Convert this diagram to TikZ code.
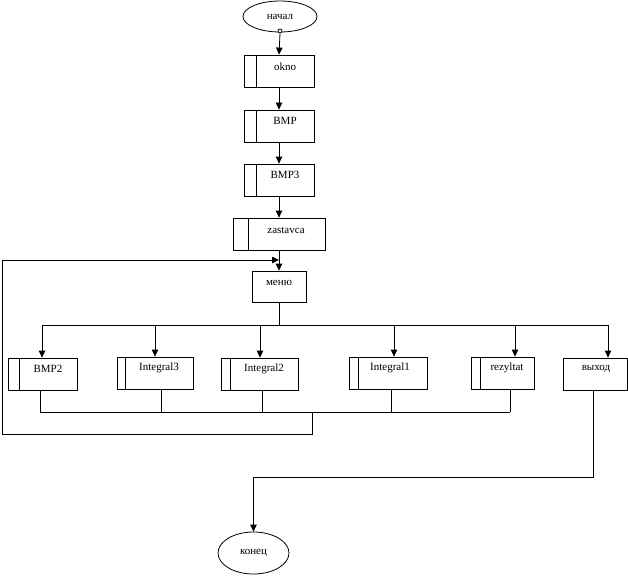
\documentclass[tikz,border=0pt]{standalone}
\usepackage{fontspec}
\setmainfont{Liberation Serif}
\usetikzlibrary{arrows.meta,shapes.geometric,calc}
\begin{document}
\begin{tikzpicture}[x=1pt,y=-1pt,
  ln/.style={line width=0.8pt},
  arr/.style={ln,-{Triangle[length=7pt,width=6.5pt]}},
  blk/.style={draw,ln,rectangle,inner sep=0pt,minimum width=#1,minimum height=32pt},
  bar/.style={path picture={\draw[ln] ([xshift=#1]path picture bounding box.north west) -- ([xshift=#1]path picture bounding box.south west);}},
  tx/.style={font=\fontsize{11}{13}\selectfont,inner sep=0pt},
  term/.style={draw,ln,ellipse,inner sep=0pt,font=\fontsize{11}{13}\selectfont}
]
\useasboundingbox (0,0) rectangle (628,575);

% top column
\node[term,minimum width=74pt,minimum height=31pt] (start) at (280,16.5) {начал};
\node[circle,draw,ln,fill=white,minimum size=4pt,inner sep=0pt] (c0) at (280,31) {};

\node[blk=70pt,bar=12pt] (okno) at (279,71) {};
\node[tx] (tokno) at (285,67) {okno};
\node[blk=70pt,bar=12pt] (bmp) at (279,126) {};
\node[tx] (tbmp) at (285,121) {BMP};
\node[blk=70pt,bar=12pt] (bmp3) at (279,180) {};
\node[tx] (tbmp3) at (285,175) {BMP3};
\node[blk=92pt,bar=15pt] (zast) at (279,234) {};
\node[tx] (tzast) at (286,230) {zastavca};
\node[blk=54pt,minimum height=31pt] (menu) at (279,286.5) {};
\node[tx] (tmenu) at (279,283) {меню};

\draw[arr] (c0.south) -- (okno.north);
\draw[arr] (okno.south) -- (bmp.north);
\draw[arr] (bmp.south) -- (bmp3.north);
\draw[arr] (bmp3.south) -- (zast.north);
\draw[arr] (zast.south) -- (menu.north);

% branch row
\node[blk=69pt,bar=11pt] (bmp2) at (42.5,374) {};
\node[tx] (tbmp2) at (48,369) {BMP2};
\node[blk=76pt,bar=8pt] (int3) at (155,373) {};
\node[tx] (tint3) at (159,368) {Integral3};
\node[blk=77pt,bar=9pt] (int2) at (259.5,374) {};
\node[tx] (tint2) at (264,369) {Integral2};
\node[blk=78pt,bar=9pt] (int1) at (388,373) {};
\node[tx] (tint1) at (390,368) {Integral1};
\node[blk=63pt,bar=9pt] (rez) at (502.5,373) {};
\node[tx] (trez) at (507,368) {rezyltat};
\node[blk=64pt] (vyh) at (595,374) {};
\node[tx] (tvyh) at (596,369) {выход};

\node[term,minimum width=71pt,minimum height=42pt] (end) at (253.5,553) {конец};

% distribution bus
\coordinate (bus) at (279,325);
\coordinate (a1) at (42,325);
\coordinate (a2) at (155,325);
\coordinate (a3) at (260,325);
\coordinate (a4) at (394,325);
\coordinate (a5) at (515,325);
\coordinate (a6) at (608,325);
\draw[ln] (menu.south) -- (bus);
\draw[ln] (a1) -- (a6);
\draw[arr] (a1) -- (a1 |- bmp2.north);
\draw[arr] (a2) -- (a2 |- int3.north);
\draw[arr] (a3) -- (a3 |- int2.north);
\draw[arr] (a4) -- (a4 |- int1.north);
\draw[arr] (a5) -- (a5 |- rez.north);
\draw[arr] (a6) -- (a6 |- vyh.north);

% collector and loop
\coordinate (b1) at (40,412);
\coordinate (b2) at (161,412);
\coordinate (b3) at (262,412);
\coordinate (b4) at (391,412);
\coordinate (b5) at (510,412);
\coordinate (bj) at (312,412);
\coordinate (l1) at (312,434);
\coordinate (l2) at (2,434);
\coordinate (l3) at (2,260);
\coordinate (ljoin) at (279,260);
\draw[ln] (b1 |- bmp2.south) -- (b1);
\draw[ln] (b2 |- int3.south) -- (b2);
\draw[ln] (b3 |- int2.south) -- (b3);
\draw[ln] (b4 |- int1.south) -- (b4);
\draw[ln] (b5 |- rez.south) -- (b5);
\draw[ln] (b1) -- (b5);
\draw[arr] (bj) -- (l1) -- (l2) -- (l3) -- (ljoin);

% exit
\coordinate (e1) at (593,477);
\coordinate (e2) at (253.5,477);
\draw[arr] (e1 |- vyh.south) -- (e1) -- (e2) -- (end.north);
\end{tikzpicture}
\end{document}
